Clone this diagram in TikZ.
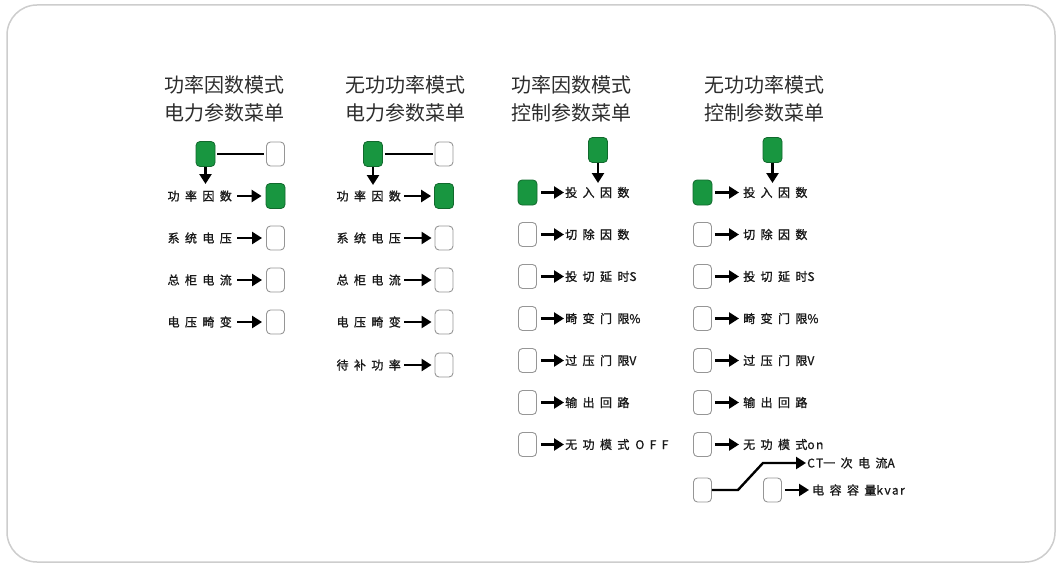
\documentclass[tikz,border=0pt]{standalone}
\usepackage{fontspec}
\setmainfont{Noto Sans CJK SC}
\newfontfamily\rowf[LetterSpace=45,FakeBold=1.2]{Noto Sans CJK SC}
\newfontfamily\latf[LetterSpace=12,FakeBold=0.8]{Noto Sans CJK SC}
\newcommand{\lat}[1]{{\latf #1}}
\usetikzlibrary{arrows.meta}
\definecolor{boxgreen}{RGB}{24,150,64}
\definecolor{boxline}{RGB}{150,150,150}
\definecolor{frameline}{RGB}{205,205,205}
\definecolor{titlecol}{RGB}{45,45,45}
\begin{document}
\begin{tikzpicture}[x=1pt,y=-1pt,
 onbox/.style={draw=boxgreen!70!black, fill=boxgreen, rounded corners=4pt, minimum width=19pt, minimum height=25pt, inner sep=0pt, line width=0.8pt},
 offbox/.style={draw=boxline, fill=white, rounded corners=4pt, minimum width=18pt, minimum height=24pt, inner sep=0pt, line width=0.9pt},
 title/.style={font=\fontsize{20}{28}\selectfont, text=titlecol, align=center, inner sep=0pt},
 lbl/.style={font=\rowf\fontsize{12}{14}\selectfont, text=black!90, inner sep=0pt},
 arr/.style={line width=2.4pt, -{Triangle[length=10pt,width=12pt]}},
 link/.style={line width=2.4pt}]
\useasboundingbox (0,0) rectangle (1062,567);
\draw[frameline, line width=1.5pt, rounded corners=30pt] (7,5) rectangle (1055,562);

% ---------- column 1 ----------
\node[title] (t1) at (224.5,99) {功率因数模式\\电力参数菜单};
\node[onbox] (a1) at (205.5,154) {};
\node[offbox] (a1r) at (275.5,154) {};
\draw[link, shorten <=2pt, shorten >=2pt] (a1) -- (a1r);
\coordinate (a1d) at (205.5,184);
\draw[arr] (a1) -- (a1d);
\node[onbox] (b11) at (275.5,196) {};
\node[offbox] (b12) at (275.5,238) {};
\node[offbox] (b13) at (275.5,280) {};
\node[offbox] (b14) at (275.5,322) {};
\node[lbl, anchor=east] (l11) at (232,196) {功率因数};
\node[lbl, anchor=east] (l12) at (232,238) {系统电压};
\node[lbl, anchor=east] (l13) at (232,280) {总柜电流};
\node[lbl, anchor=east] (l14) at (232,322) {电压畸变};
\foreach \i in {1,...,4} \draw[arr, shorten <=5pt, shorten >=4pt] (l1\i.east) -- (b1\i.west);

% ---------- column 2 ----------
\node[title] (t2) at (405,99) {无功功率模式\\电力参数菜单};
\node[onbox] (a2) at (373,154) {};
\node[offbox] (a2r) at (444,154) {};
\draw[link, shorten <=2pt, shorten >=2pt] (a2) -- (a2r);
\coordinate (a2d) at (373,185);
\draw[arr] (a2) -- (a2d);
\node[onbox] (b21) at (444,196) {};
\node[offbox] (b22) at (444,238) {};
\node[offbox] (b23) at (444,280) {};
\node[offbox] (b24) at (444,322) {};
\node[offbox] (b25) at (444,365) {};
\node[lbl, anchor=east] (l21) at (401,196) {功率因数};
\node[lbl, anchor=east] (l22) at (401,238) {系统电压};
\node[lbl, anchor=east] (l23) at (401,280) {总柜电流};
\node[lbl, anchor=east] (l24) at (401,322) {电压畸变};
\node[lbl, anchor=east] (l25) at (401,365) {待补功率};
\foreach \i in {1,...,5} \draw[arr, shorten <=3pt, shorten >=3pt] (l2\i.east) -- (b2\i.west);

% ---------- column 3 ----------
\node[title] (t3) at (571.5,99) {功率因数模式\\控制参数菜单};
\node[onbox] (a3) at (598,150) {};
\coordinate (a3d) at (598,183);
\draw[arr] (a3) -- (a3d);
\node[onbox] (b31) at (527.5,192.5) {};
\node[offbox] (b32) at (527.5,234.5) {};
\node[offbox] (b33) at (527.5,276.5) {};
\node[offbox] (b34) at (527.5,318.5) {};
\node[offbox] (b35) at (527.5,360.5) {};
\node[offbox] (b36) at (527.5,402.5) {};
\node[offbox] (b37) at (527.5,444.5) {};
\node[lbl, anchor=west] (l31) at (565,192.5) {投入因数};
\node[lbl, anchor=west] (l32) at (565,234.5) {切除因数};
\node[lbl, anchor=west] (l33) at (565,276.5) {投切延时\lat{S}};
\node[lbl, anchor=west] (l34) at (565,318.5) {畸变门限\lat{\%}};
\node[lbl, anchor=west] (l35) at (565,360.5) {过压门限\lat{V}};
\node[lbl, anchor=west] (l36) at (565,402.5) {输出回路};
\node[lbl, anchor=west] (l37) at (565,444.5) {无功模式\hspace{6pt}{\rowf OFF}};
\foreach \i in {1,...,7} \draw[arr, shorten <=4pt, shorten >=1pt] (b3\i.east) -- (l3\i.west);

% ---------- column 4 ----------
\node[title] (t4) at (764,99) {无功功率模式\\控制参数菜单};
\node[onbox] (a4) at (772.5,150) {};
\coordinate (a4d) at (772.5,183);
\draw[arr] (a4) -- (a4d);
\node[onbox] (b41) at (702.5,192.5) {};
\node[offbox] (b42) at (702.5,234.5) {};
\node[offbox] (b43) at (702.5,276.5) {};
\node[offbox] (b44) at (702.5,318.5) {};
\node[offbox] (b45) at (702.5,360.5) {};
\node[offbox] (b46) at (702.5,402.5) {};
\node[offbox] (b47) at (702.5,444.5) {};
\node[lbl, anchor=west] (l41) at (743,192.5) {投入因数};
\node[lbl, anchor=west] (l42) at (743,234.5) {切除因数};
\node[lbl, anchor=west] (l43) at (743,276.5) {投切延时\lat{S}};
\node[lbl, anchor=west] (l44) at (743,318.5) {畸变门限\lat{\%}};
\node[lbl, anchor=west] (l45) at (743,360.5) {过压门限\lat{V}};
\node[lbl, anchor=west] (l46) at (743,402.5) {输出回路};
\node[lbl, anchor=west] (l47) at (743,444.5) {无功模式\lat{on}};
\foreach \i in {1,...,7} \draw[arr, shorten <=3pt, shorten >=4pt] (b4\i.east) -- (l4\i.west);
% bottom pair
\node[offbox] (b48) at (702.5,490) {};
\node[offbox] (b49) at (772.5,490) {};
\node[lbl, anchor=west] (l48) at (807,463) {\lat{CT}一次电流\lat{A}};
\node[lbl, anchor=west] (l49) at (812,490) {电容容量\lat{kvar}};
\draw[arr, shorten >=1pt] (b48.east) -- ++(26,0) -- ++(25,-27) -- (l48.west);
\draw[arr, shorten <=3pt, shorten >=3pt] (b49.east) -- (l49.west);
\end{tikzpicture}
\end{document}
